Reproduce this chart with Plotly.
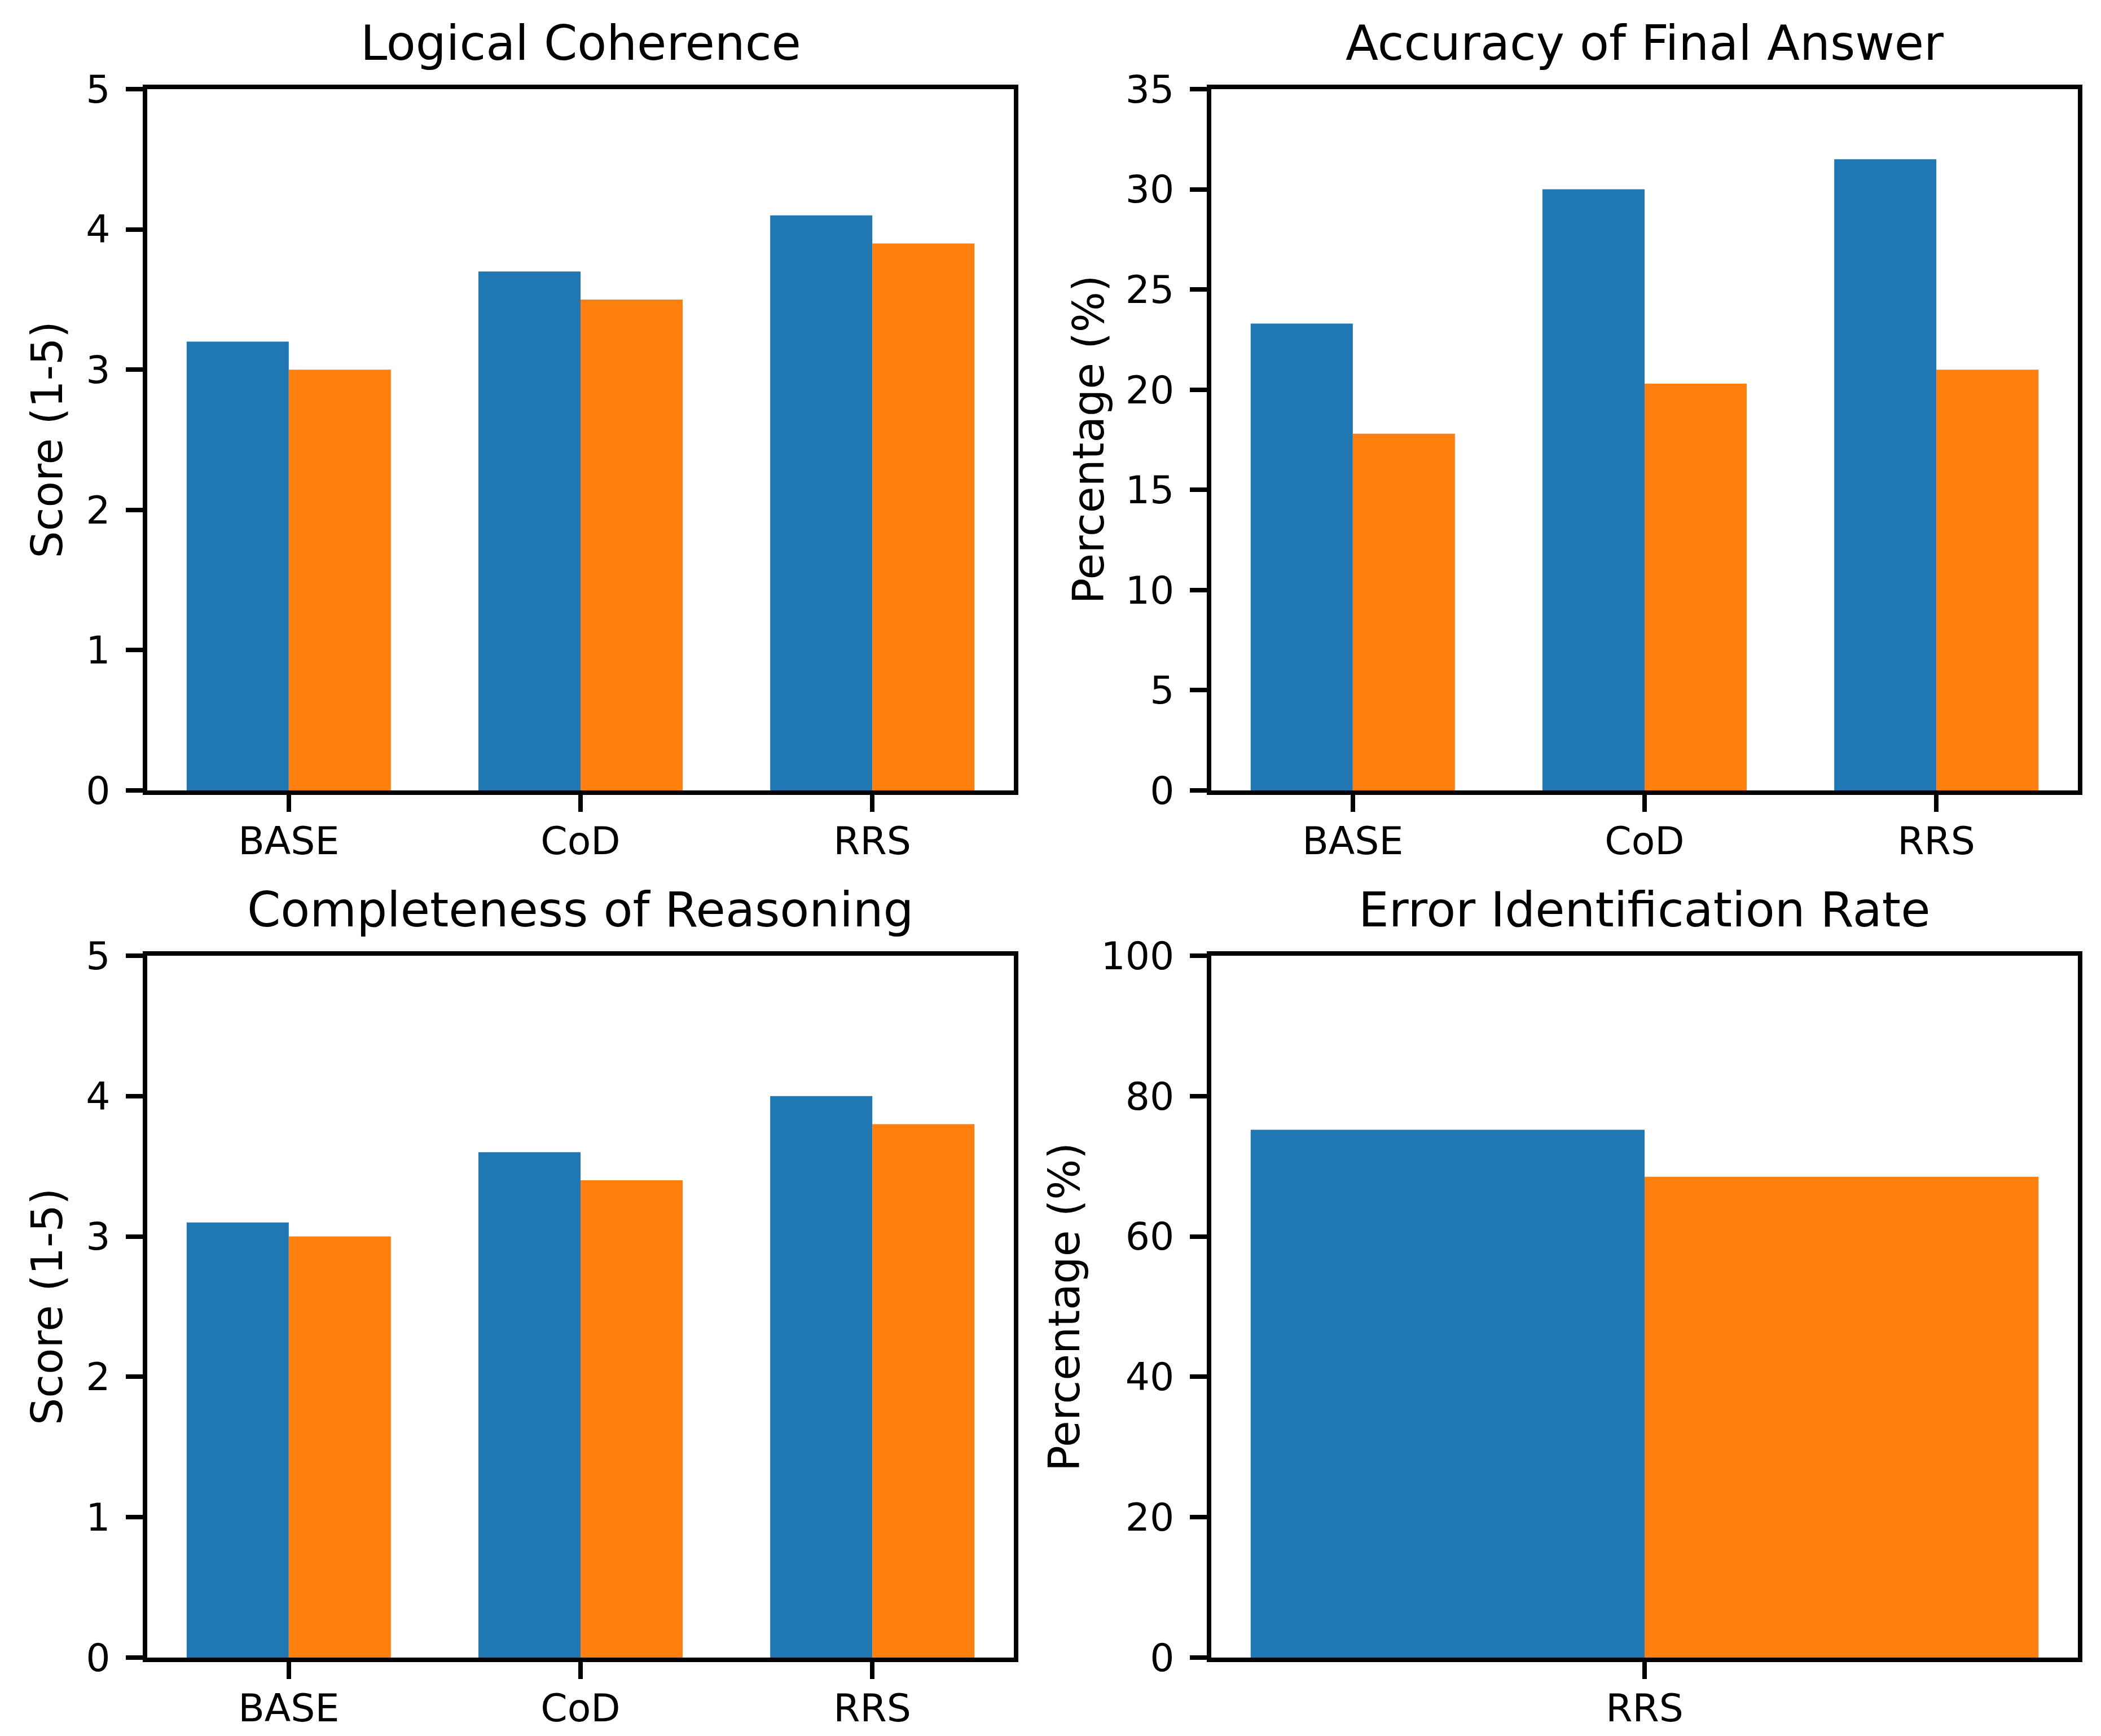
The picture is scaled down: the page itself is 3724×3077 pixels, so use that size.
import plotly.graph_objects as go

# ---- data ----
methods = ["BASE", "CoD", "RRS"]
err_methods = ["RRS"]
series_names = ["Model A", "Model B"]
logical_a = [3.2, 3.7, 4.1]
logical_b = [3.0, 3.5, 3.9]
accuracy_a = [23.3, 30.0, 31.5]
accuracy_b = [17.8, 20.3, 21.0]
complete_a = [3.1, 3.6, 4.0]
complete_b = [3.0, 3.4, 3.8]
error_a = [75.2]
error_b = [68.5]
titles = ["Logical Coherence", "Accuracy of Final Answer",
          "Completeness of Reasoning", "Error Identification Rate"]
ylabels = ["Score (1-5)", "Percentage (%)", "Score (1-5)", "Percentage (%)"]
y_ranges = [[0, 5], [0, 35], [0, 5], [0, 100]]
y_dticks = [1, 5, 1, 20]

colors = ["#1f77b4", "#ff7f0e"]
W, H = 3724, 3077
OFF = 8  # page body margin compensation
FONT = "DejaVu Sans"


def px_x(p):
    return (p - OFF) / W


def px_y(p):
    return 1 - (p - OFF) / H


xdom = [[px_x(261), px_x(1797)], [px_x(2147), px_x(3683)]]
ydom = [[px_y(1401), px_y(158)], [px_y(2938), px_y(1694)]]

panels = [
    (methods, logical_a, logical_b),
    (methods, accuracy_a, accuracy_b),
    (methods, complete_a, complete_b),
    (err_methods, error_a, error_b),
]

fig = go.Figure()
bar_w = 0.35
for i, (cats, a, b) in enumerate(panels):
    ax = "" if i == 0 else str(i + 1)
    for j, vals in enumerate([a, b]):
        fig.add_trace(go.Bar(
            x=cats, y=vals, name=series_names[j],
            marker=dict(color=colors[j], line=dict(width=0)),
            width=bar_w, offset=-bar_w if j == 0 else 0,
            xaxis="x" + ax, yaxis="y" + ax, showlegend=False,
        ))

axis_common = dict(
    showline=True, linecolor="black", linewidth=8, mirror=True,
    ticks="outside", ticklen=30, tickwidth=8, tickcolor="black",
    showgrid=False, zeroline=False, automargin=False,
    tickfont=dict(family=FONT, size=68, color="black"),
)

annotations = []
ylabel_x = [px_x(83), px_x(1929), px_x(83), px_x(1886)]
for i in range(4):
    r, c = divmod(i, 2)
    ax = "" if i == 0 else str(i + 1)
    ncat = len(panels[i][0])
    xr = [-0.485, ncat - 1 + 0.485] if ncat > 1 else [-0.385, 0.385]
    fig.layout["xaxis" + ax] = dict(
        domain=xdom[c], anchor="y" + ax, type="category",
        range=xr, ticklabelstandoff=-7, **axis_common)
    fig.layout["yaxis" + ax] = dict(
        domain=ydom[r], anchor="x" + ax, range=y_ranges[i],
        dtick=y_dticks[i], tick0=0, ticklabelstandoff=14, **axis_common)
    annotations.append(dict(
        text=titles[i], xref="paper", yref="paper",
        x=sum(xdom[c]) / 2, y=ydom[r][1], xanchor="center", yanchor="bottom",
        yshift=30, showarrow=False,
        font=dict(family=FONT, size=85, color="black")))
    annotations.append(dict(
        text=ylabels[i], xref="paper", yref="paper",
        x=ylabel_x[i], y=sum(ydom[r]) / 2, xanchor="center", yanchor="middle",
        textangle=-90, showarrow=False,
        font=dict(family=FONT, size=76, color="black")))

fig.update_layout(
    width=W, height=H, margin=dict(l=0, r=0, t=0, b=0, autoexpand=False),
    paper_bgcolor="white", plot_bgcolor="white",
    barmode="overlay", annotations=annotations,
    font=dict(family=FONT, color="black"),
)

fig.write_html("out.html")
